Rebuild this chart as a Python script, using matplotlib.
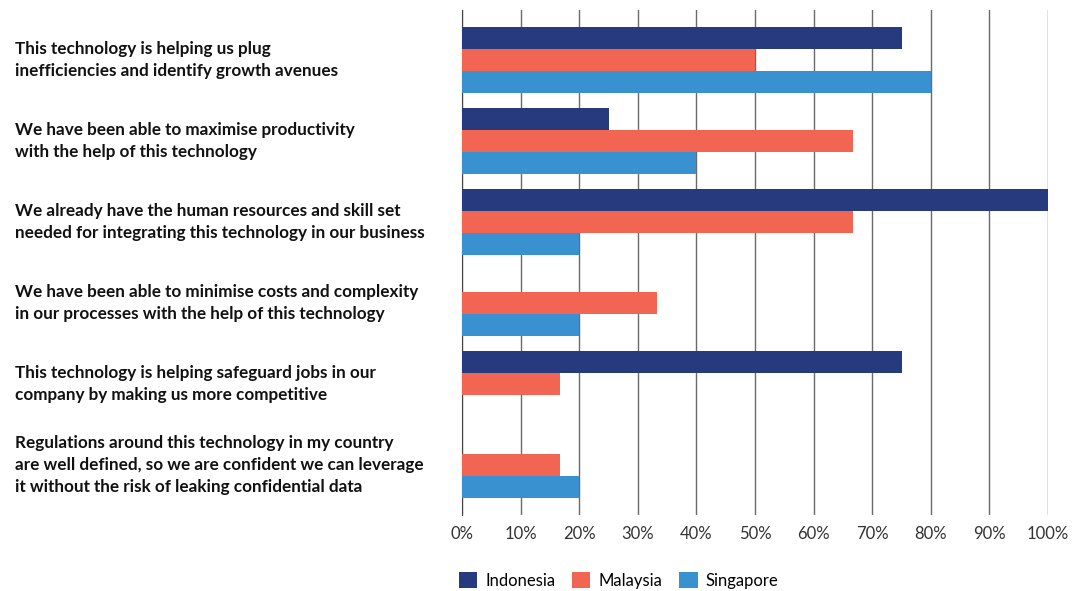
import numpy as np
import matplotlib.pyplot as plt

statements = [
    'This technology is helping us plug\ninefficiencies and identify growth avenues',
    'We have been able to maximise productivity\nwith the help of this technology',
    'We already have the human resources and skill set\nneeded for integrating this technology in our business',
    'We have been able to minimise costs and complexity\nin our processes with the help of this technology',
    'This technology is helping safeguard jobs in our\ncompany by making us more competitive',
    'Regulations around this technology in my country\nare well defined, so we are confident we can leverage\nit without the risk of leaking confidential data',
]
indonesia = [75, 25, 100, 0, 75, 0]
malaysia = [50, 66.7, 66.7, 33.3, 16.7, 16.7]
singapore = [80, 40, 20, 20, 0, 20]

countries = ['Indonesia', 'Malaysia', 'Singapore']
colors = ['#283a7e', '#f26552', '#3a91d0']

plt.rcParams['font.family'] = ['Lato', 'DejaVu Sans']

fig = plt.figure(figsize=(10.82, 5.91), dpi=100)
ax = fig.add_axes([0.427, 0.1286, 0.5416, 0.8545])

y = np.arange(len(statements))
h = 0.27
for i, (vals, name, c) in enumerate(zip([indonesia, malaysia, singapore], countries, colors)):
    ax.barh(y + (i - 1) * h, vals, height=h, color=c, label=name, zorder=3)

ax.set_xlim(0, 100)
ax.set_ylim(5.62, -0.62)
ax.set_xticks(range(0, 101, 10))
ax.set_xticklabels([f'{v}%' for v in range(0, 101, 10)], fontsize=12, color='#333333')
ax.grid(axis='x', color='#6a6a6a', linewidth=1, zorder=0)
for s in ['top', 'right', 'bottom']:
    ax.spines[s].set_visible(False)
ax.spines['left'].set_color('#444444')
ax.tick_params(axis='x', length=0, pad=8)
ax.tick_params(axis='y', length=0, pad=322)
ax.set_yticks(y)
ax.set_yticklabels(statements, ha='left', va='center', fontsize=12.3, fontweight='bold',
                   color='#111111', linespacing=1.45)

fig.legend(loc='lower left', bbox_to_anchor=(0.41, -0.022), ncol=3, frameon=False,
           fontsize=12, handlelength=1.1, handleheight=1.1, columnspacing=1.0,
           handletextpad=0.5)

fig.savefig('out.png', dpi=100)
